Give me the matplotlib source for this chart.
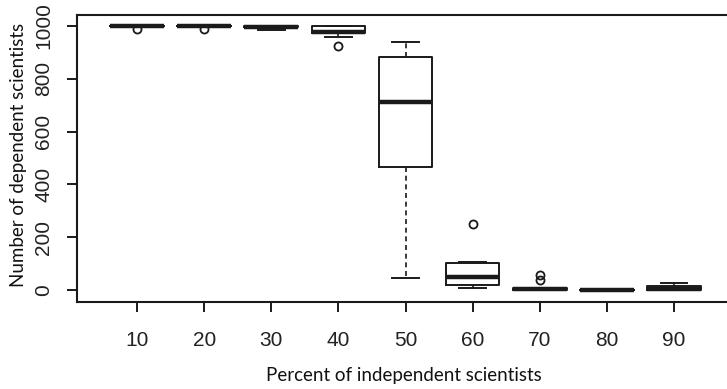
import matplotlib
matplotlib.use("Agg")
import matplotlib.pyplot as plt
from matplotlib import font_manager

# ---- data ----
categories = ["10", "20", "30", "40", "50", "60", "70", "80", "90"]
medians  = [1000, 1000, 998, 978, 713, 49, 2, 0, 3]
q1s      = [999, 999, 995, 972, 466, 19, 0, 0, 0]
q3s      = [1000, 1000, 1000, 1000, 884, 102, 6, 1, 14]
whislos  = [999, 999, 986, 958, 45, 8, 0, 0, 0]
whishis  = [1000, 1000, 1000, 1000, 940, 105, 8, 1, 25]
fliers   = [[988], [987], [], [924], [], [250], [57, 36], [], []]
yticks   = [0, 200, 400, 600, 800, 1000]

names = {f.name for f in font_manager.fontManager.ttflist}
tick_font = "Liberation Sans Narrow" if "Liberation Sans Narrow" in names else "Liberation Sans"
label_font = "Lato"

W, H = 727, 389
fig = plt.figure(figsize=(W / 100, H / 100), dpi=100)
# axes pixel box: left 77, right = figure edge, top 15, bottom 302
ax = fig.add_axes([77 / W, (H - 302) / H, (W - 77) / W, (302 - 15) / H])

stats = []
for i, c in enumerate(categories):
    stats.append(dict(med=medians[i], q1=q1s[i], q3=q3s[i],
                      whislo=whislos[i], whishi=whishis[i],
                      fliers=fliers[i], label=c))

col = "#1a1a1a"
ax.bxp(stats, positions=range(1, len(categories) + 1), widths=0.8,
       showfliers=True,
       boxprops=dict(color=col, linewidth=1.4),
       medianprops=dict(color=col, linewidth=3.2, solid_capstyle="butt"),
       whiskerprops=dict(color=col, linewidth=1.2, linestyle=(0, (3, 2.2))),
       capprops=dict(color=col, linewidth=1.4),
       capwidths=0.4,
       flierprops=dict(marker="o", markerfacecolor="none", markeredgecolor=col,
                       markersize=5.8, markeredgewidth=1.3))

ax.set_xlim(1 - (137 - 77) / 67.1, 9 + (727 - 674) / 67.1)
ax.set_ylim(-45.5, 1041.7)

for s in ("left", "top", "bottom"):
    ax.spines[s].set_linewidth(1.5)
    ax.spines[s].set_color(col)
ax.spines["right"].set_visible(False)

ax.set_xticks(range(1, len(categories) + 1))
ax.set_xticklabels(categories, fontfamily=tick_font, fontsize=15, color="#222222")
ax.set_yticks(yticks)
ax.set_yticklabels([str(v) for v in yticks], fontfamily=tick_font, fontsize=15,
                   color="#222222", rotation=90, va="center")
ax.tick_params(axis="both", length=7, width=1.4, color=col, direction="out")
ax.tick_params(axis="x", pad=14)
ax.tick_params(axis="y", pad=10)

fig.text(404 / W, 1 - 376 / H, "Percent of independent scientists",
         fontfamily=label_font, fontsize=13.5, ha="center", va="center", color="#111111")
fig.text(19 / W, 1 - 155 / H, "Number of dependent scientists",
         fontfamily=label_font, fontsize=13.5, ha="center", va="center",
         rotation=90, color="#111111")

fig.savefig("out.png", dpi=100)
